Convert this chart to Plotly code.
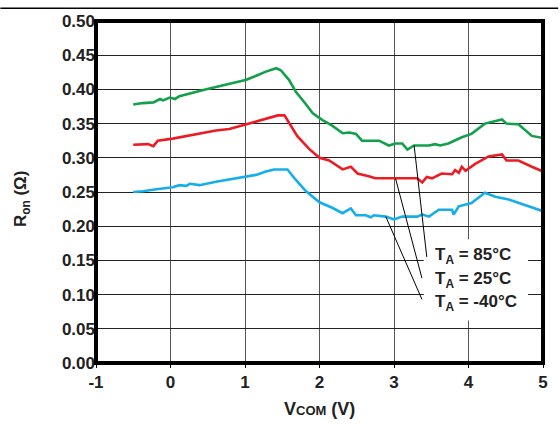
import plotly.graph_objects as go

# ---- data ----
v_85 = [-0.50, -0.37, -0.23, -0.14, -0.10, -0.01, 0.06, 0.12, 0.44, 0.75, 0.88, 1.02, 1.15, 1.28, 1.42,
        1.48, 1.59, 1.68, 1.82, 1.91, 2.04, 2.17, 2.31, 2.40, 2.49, 2.57, 2.80, 2.93, 3.02, 3.11, 3.18,
        3.27, 3.47, 3.55, 3.62, 3.73, 3.91, 4.04, 4.22, 4.31, 4.45, 4.51, 4.67, 4.85, 5.00]
r_85 = [0.378, 0.380, 0.381, 0.386, 0.384, 0.388, 0.386, 0.390, 0.399, 0.407, 0.411, 0.414, 0.420, 0.426, 0.431,
        0.428, 0.414, 0.397, 0.378, 0.365, 0.355, 0.347, 0.336, 0.337, 0.335, 0.325, 0.325, 0.318, 0.321, 0.321, 0.312,
        0.318, 0.318, 0.320, 0.318, 0.321, 0.330, 0.335, 0.350, 0.352, 0.356, 0.350, 0.349, 0.332, 0.329]

v_25 = [-0.50, -0.30, -0.23, -0.17, 0.03, 0.17, 0.39, 0.61, 0.79, 1.02, 1.24, 1.44, 1.53, 1.59, 1.70,
        1.86, 2.00, 2.13, 2.31, 2.42, 2.51, 2.66, 2.75, 3.02, 3.31, 3.38, 3.44, 3.51, 3.64, 3.78,
        3.82, 3.87, 3.91, 3.96, 4.09, 4.27, 4.45, 4.51, 4.67, 4.85, 5.00]
r_25 = [0.319, 0.320, 0.317, 0.325, 0.328, 0.331, 0.336, 0.340, 0.342, 0.349, 0.356, 0.362, 0.362, 0.352, 0.332,
        0.313, 0.300, 0.296, 0.283, 0.287, 0.277, 0.273, 0.270, 0.270, 0.270, 0.264, 0.272, 0.270, 0.277, 0.276,
        0.282, 0.278, 0.287, 0.281, 0.291, 0.302, 0.305, 0.296, 0.296, 0.287, 0.280]

v_m40 = [-0.50, -0.37, -0.19, 0.03, 0.12, 0.21, 0.26, 0.39, 0.61, 0.79, 0.97, 1.15, 1.28, 1.39, 1.57,
         1.68, 1.82, 2.00, 2.17, 2.31, 2.42, 2.49, 2.62, 2.69, 2.73, 2.89, 3.00, 3.11, 3.31, 3.38,
         3.47, 3.60, 3.78, 3.80, 3.87, 4.04, 4.22, 4.36, 4.54, 4.80, 5.00]
r_m40 = [0.250, 0.251, 0.254, 0.257, 0.260, 0.259, 0.262, 0.260, 0.265, 0.268, 0.272, 0.275, 0.280, 0.283, 0.283,
         0.268, 0.251, 0.235, 0.227, 0.219, 0.226, 0.216, 0.216, 0.213, 0.216, 0.214, 0.210, 0.214, 0.214, 0.217,
         0.214, 0.224, 0.224, 0.217, 0.229, 0.234, 0.249, 0.243, 0.239, 0.230, 0.222]

x_ticks = [-1, 0, 1, 2, 3, 4, 5]
y_ticks = [0.00, 0.05, 0.10, 0.15, 0.20, 0.25, 0.30, 0.35, 0.40, 0.45, 0.50]

labels = ["T<sub>A</sub> = 85°C", "T<sub>A</sub> = 25°C", "T<sub>A</sub> = -40°C"]
label_y = [0.157, 0.121, 0.087]
label_x = 3.52
leader_end_x = [3.44, 3.375, 3.375]
leader_end_y = [0.155, 0.124, 0.093]
leader_idx = [31, 23, 25]  # index of the curve point each leader starts from

colors = ["#12a04b", "#ec1c24", "#16aee8"]
FONT = "Liberation Sans, Arial, sans-serif"

fig = go.Figure()
series = [(v_85, r_85), (v_25, r_25), (v_m40, r_m40)]
for (vx, ry), c in zip(series, colors):
    fig.add_trace(go.Scatter(x=vx, y=ry, mode="lines",
                             line=dict(color=c, width=2.6), showlegend=False, hoverinfo="skip"))

shapes = []
# white box behind the labels
shapes.append(dict(type="rect", xref="x", yref="y", x0=3.40, x1=4.80, y0=0.062, y1=0.181,
                   fillcolor="white", line=dict(width=0), layer="above"))
for (vx, ry), i, ex, ey in zip(series, leader_idx, leader_end_x, leader_end_y):
    shapes.append(dict(type="line", xref="x", yref="y", x0=vx[i], y0=ry[i], x1=ex, y1=ey,
                       line=dict(color="black", width=1), layer="above"))
# thick frame around the plot area
shapes.append(dict(type="rect", xref="paper", yref="paper", x0=0, x1=1, y0=0, y1=1,
                   line=dict(color="black", width=4), layer="above"))
# thin rule at the very top of the page
shapes.append(dict(type="line", xref="paper", yref="paper", x0=-0.214, x1=1.034, y0=1.037, y1=1.037,
                   line=dict(color="black", width=1.5)))

annotations = []
for t, y in zip(labels, label_y):
    annotations.append(dict(x=label_x, y=y, xref="x", yref="y", text="<b>" + t + "</b>",
                            showarrow=False, xanchor="left", yanchor="middle",
                            font=dict(family=FONT, size=17, color="#222")))
annotations.append(dict(x=-0.165, y=0.48, xref="paper", yref="paper",
                        text="<b>R<sub>on</sub> (Ω)</b>", textangle=-90, showarrow=False,
                        xanchor="center", yanchor="middle",
                        font=dict(family=FONT, size=17, color="#222")))
annotations.append(dict(x=0.501, y=-0.135, xref="paper", yref="paper",
                        text="<b>V<span style='font-size:13px'>COM</span> (V)</b>", showarrow=False,
                        xanchor="center", yanchor="middle",
                        font=dict(family=FONT, size=18, color="#222")))

fig.update_layout(
    width=560, height=425,
    margin=dict(l=96, r=15, t=15, b=62),
    paper_bgcolor="white", plot_bgcolor="white",
    shapes=shapes, annotations=annotations,
    xaxis=dict(range=[-1, 5], tickvals=x_ticks, ticktext=[str(t) for t in x_ticks],
               showgrid=True, gridcolor="#555555", gridwidth=1.4,
               showline=False,
               ticks="outside", ticklen=4, tickcolor="black",
               tickfont=dict(family=FONT, size=17, color="#222", weight=700), zeroline=False),
    yaxis=dict(range=[0, 0.5], tickvals=y_ticks, ticktext=[f"{t:.2f}" for t in y_ticks],
               showgrid=True, gridcolor="#222222", gridwidth=1,
               showline=False,
               ticks="", ticklen=0,
               tickfont=dict(family=FONT, size=17, color="#222", weight=700), zeroline=False),
)

fig.write_html("out.html", config={"displayModeBar": False},
               post_script="document.body.style.margin='0px';")
